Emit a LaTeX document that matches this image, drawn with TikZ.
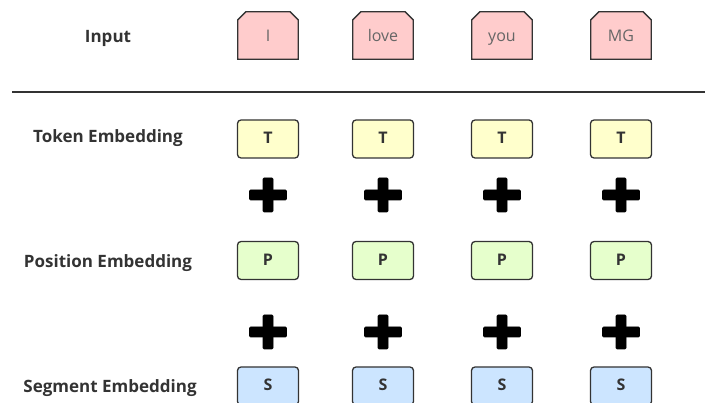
\documentclass[tikz,border=0pt]{standalone}
\usepackage{fontspec}
\setmainfont{Open Sans}
\usetikzlibrary{calc}
\definecolor{inkgray}{HTML}{333333}
\definecolor{wordfill}{HTML}{FFCCCC}
\definecolor{tokfill}{HTML}{FFFFCC}
\definecolor{posfill}{HTML}{E6FFCC}
\definecolor{segfill}{HTML}{CCE5FF}
\tikzset{
  rowlabel/.style={font=\bfseries\fontsize{17}{20}\selectfont, text=inkgray, anchor=center},
  wordbox/.style={rectangle, minimum width=60pt, minimum height=47pt, inner sep=0pt},
  wordoutline/.style={draw=inkgray, line width=1.3pt, fill=wordfill, line join=miter},
  wordtext/.style={text=inkgray!75, font=\fontsize{16}{19}\selectfont, inner sep=0pt,
    text height=11.5pt, text depth=3.5pt},
  embbox/.style={rectangle, rounded corners=3.5pt, draw=inkgray, line width=1.3pt,
    minimum width=61pt, minimum height=38pt, inner sep=0pt, text=inkgray,
    text height=11pt, text depth=1pt, font=\bfseries\fontsize{16}{19}\selectfont},
  tokbox/.style={embbox, fill=tokfill},
  posbox/.style={embbox, fill=posfill},
  segbox/.style={embbox, fill=segfill},
  plusbar/.style={fill=black, draw=black, line width=0.6pt, rounded corners=1pt},
}
\newcommand{\plussign}[2]{%
  \node[inner sep=0pt, minimum width=37pt, minimum height=34pt] (#2) at #1 {};
  \path[plusbar] ($(#2.center)+(-18.5pt,-5pt)$) rectangle ($(#2.center)+(18.5pt,5pt)$);
  \path[plusbar] ($(#2.center)+(-5pt,-17pt)$) rectangle ($(#2.center)+(5pt,17pt)$);
}
\begin{document}
\begin{tikzpicture}[x=1pt,y=-1pt]
  \useasboundingbox (0,0) rectangle (705,403);

  % row captions
  \node[rowlabel] (lin) at (108,38.5) {Input};
  \node[rowlabel] (ltok) at (108,138.5) {Token Embedding};
  \node[rowlabel] (lpos) at (108,263.5) {Position Embedding};
  \node[rowlabel] (lseg) at (110,388.5) {Segment Embedding};

  % separator under the input row
  \coordinate (sepL) at (12,92);
  \coordinate (sepR) at (705,92);
  \draw[inkgray, line width=1.3pt] (sepL) -- (sepR);

  % input words: boxes with the two upper corners cut off
  \foreach \i/\x/\w in {1/268/I,2/383/love,3/502/you,4/621/MG}{
    \node[wordbox] (w\i) at (\x,35.5) {};
    \path[wordoutline] (w\i.south west) -- ($(w\i.north west)+(0,8)$)
      -- ($(w\i.north west)+(8,0)$) -- ($(w\i.north east)+(-8,0)$)
      -- ($(w\i.north east)+(0,8)$) -- (w\i.south east) -- cycle;
    \node[wordtext] (wt\i) at ($(w\i.center)+(0,2.5)$) {\w};
  }

  % token, position and segment embeddings
  \foreach \i/\x in {1/268,2/383,3/502,4/621}{
    \node[tokbox] (t\i) at (\x,139) {T};
    \node[posbox] (p\i) at (\x,260.5) {P};
    \node[segbox] (s\i) at (\x,386) {S};
    \plussign{(\x,195)}{pa\i}
    \plussign{(\x,332)}{pb\i}
  }
\end{tikzpicture}
\end{document}
